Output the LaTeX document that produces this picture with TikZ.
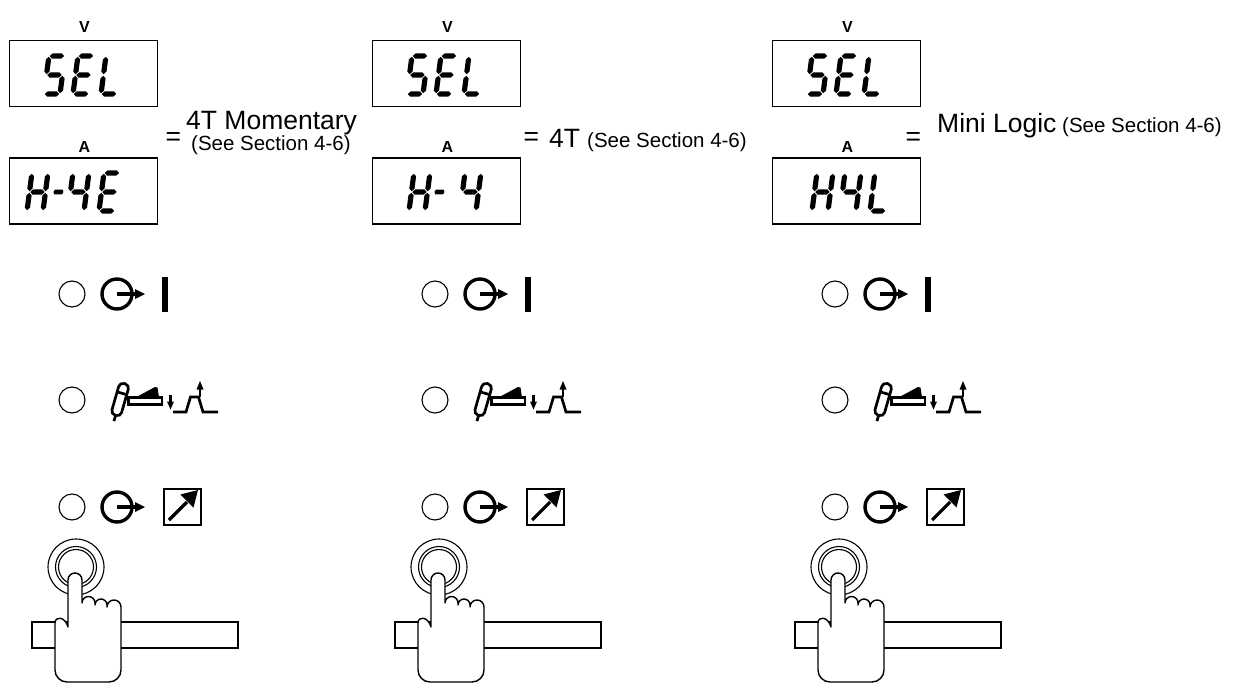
\documentclass[tikz,border=0pt]{standalone}
\usepackage{fontspec}
\setmainfont{Liberation Sans}

% --- seven-segment glyphs (local units: u to the right, v upwards) ---
\newcommand\lcdhseg[3]{\fill (#1,#3) -- (#1+2.6,#3+2.6) -- (#2-2.6,#3+2.6) -- (#2,#3) -- (#2-2.6,#3-2.6) -- (#1+2.6,#3-2.6) -- cycle;}
\newcommand\lcdvseg[3]{\fill (#1,#2) -- (#1+2.6,#2+2.6) -- (#1+2.6,#3-2.6) -- (#1,#3) -- (#1-2.6,#3-2.6) -- (#1-2.6,#2+2.6) -- cycle;}
\newcommand\lcdsega{\lcdhseg{0.8}{15.2}{38}}
\newcommand\lcdsegb{\lcdvseg{16}{19.8}{37.2}}
\newcommand\lcdsegc{\lcdvseg{16}{0.8}{18.2}}
\newcommand\lcdsegd{\lcdhseg{0.8}{15.2}{0}}
\newcommand\lcdsege{\lcdvseg{0}{0.8}{18.2}}
\newcommand\lcdsegf{\lcdvseg{0}{19.8}{37.2}}
\newcommand\lcdsegg{\lcdhseg{0.8}{15.2}{19}}
\newcommand\lcdchar[3]{\begin{scope}[shift={(#1,#2)},x={(1pt,0pt)},y={(0.13pt,1pt)}]
  \foreach \sg in {#3}{\csname lcdseg\sg\endcsname}\end{scope}}
\newcommand\lcdS[2]{\lcdchar{#1}{#2}{a,f,g,c,d}}
\newcommand\lcdE[2]{\lcdchar{#1}{#2}{a,f,g,e,d}}
\newcommand\lcdL[2]{\lcdchar{#1}{#2}{f,e,d}}
\newcommand\lcdH[2]{\lcdchar{#1}{#2}{b,c,e,f,g}}
\newcommand\lcdFour[2]{\lcdchar{#1}{#2}{f,g,b,c}}
% short minus sign between characters
\newcommand\lcdDash[2]{\begin{scope}[shift={(#1,#2)},x={(1pt,0pt)},y={(0.13pt,1pt)}]
  \fill (0,19) -- (1.2,21.4) -- (8.8,21.4) -- (10,19) -- (8.8,16.6) -- (1.2,16.6) -- cycle;\end{scope}}

\begin{document}
\begin{tikzpicture}[x=1pt,y=-1pt,
  display/.style={draw, line width=1.3pt, minimum width=148pt, minimum height=66pt, inner sep=0pt},
  meter/.style={font=\fontsize{16}{16}\selectfont\bfseries, inner sep=0pt, anchor=base},
  lamp/.style={draw, circle, line width=1.1pt, minimum size=26pt, inner sep=0pt},
  bigtext/.style={font=\fontsize{26.5}{30}\selectfont, inner sep=0pt, anchor=base west},
  smalltext/.style={font=\fontsize{20.5}{24}\selectfont, inner sep=0pt, anchor=base west},
  heavy/.style={line width=3.4pt},
  ring/.style={line width=1.1pt},
  handline/.style={line width=1.4pt, fill=white, line join=round},
  iconline/.style={line width=2.7pt}]
\useasboundingbox (0,0) rectangle (1241,698);

% ---------- parts shared by the three columns ----------
\foreach \ox/\k in {0/1,363/2,763/3}{
\begin{scope}[xshift=\ox]
  % meter displays
  \node[meter] (vlab\k) at (84.5,33) {V};
  \node[display] (vdisp\k) at (83.5,73.5) {};
  \node[meter] (alab\k) at (84.5,152) {A};
  \node[display] (adisp\k) at (83.5,191) {};
  \lcdS{44}{94}\lcdE{73}{94}\lcdL{101}{94}

  % row 1: trigger hold
  \node[lamp] (lampa\k) at (72,294) {};
  \draw[heavy] (117,294) circle (15pt);
  \draw[line width=3.2pt] (117,294) -- (136,294);
  \fill (135,289) -- (145,294) -- (135,299) -- cycle;
  \fill (161.5,277) rectangle (167.5,312);

  % row 2: torch and pulse
  \node[lamp] (lampb\k) at (72,400) {};
  \begin{scope}[shift={(120,400)},rotate=-16]
    \draw[iconline, rounded corners=4.5pt] (-5,-17) rectangle (5,16);
    \draw[iconline] (-5,-7) -- (5,-7);
    \draw[iconline] (0,16) -- (0,22);
  \end{scope}
  \draw[iconline, fill=white] (128.5,397.5) rectangle (162,404.5);
  \fill (135.5,397.5) -- (155,387) -- (157.5,387.5) -- (159,397.5) -- cycle;
  \draw[line width=2.2pt] (170.5,395) -- (170.5,403);
  \fill (167,401.5) -- (174,401.5) -- (170.5,409.5) -- cycle;
  \draw[iconline] (173,412) -- (186,412) -- (190.5,397) -- (198.5,397) -- (203,412) -- (218,412);
  \draw[line width=2.2pt] (200,397) -- (200,388);
  \fill (196.5,389.5) -- (203.5,389.5) -- (200,381) -- cycle;

  % row 3: trigger hold into remote
  \node[lamp] (lampc\k) at (72,507) {};
  \draw[heavy] (117,507) circle (15pt);
  \draw[line width=3.2pt] (117,507) -- (136,507);
  \fill (135,502) -- (145,507) -- (135,512) -- cycle;
  \draw[line width=2.8pt] (164,489) rectangle (201,525);
  \draw[line width=3.2pt] (169,520) -- (187,502);
  \fill (198,490) -- (193.5,507.5) -- (180.5,494.5) -- cycle;

  % push button, panel rail and hand
  \draw[ring] (76,567) circle (28pt);
  \draw[ring] (76,567) circle (20.5pt);
  \draw[ring] (76,567) circle (17.5pt);
  \draw[ring] (32,622) rectangle (238,648);
  \draw[handline] (68,627) -- (68,580)
    arc[start angle=180, end angle=0, radius=7pt] -- (82,603)
    arc[start angle=180, end angle=0, radius=6.5pt] -- (95,605)
    arc[start angle=180, end angle=0, radius=6pt] -- (107,607)
    arc[start angle=180, end angle=0, radius=7pt] -- (121,670)
    arc[start angle=0, end angle=-90, radius=12pt] -- (67,682)
    arc[start angle=-90, end angle=-180, radius=12pt] -- (55,623)
    .. controls (55,616) and (65,616) .. (68,627) -- cycle;
\end{scope}
}

% ---------- amperage display readings ----------
\lcdH{27}{211}\lcdDash{51}{211}\lcdFour{68}{211}\lcdE{99}{211}
\lcdH{409}{211}\lcdDash{432}{211}\lcdFour{460}{211}
\lcdH{812}{211}\lcdFour{840}{211}\lcdL{870}{211}

% ---------- mode descriptions ----------
\node[bigtext] (eqa) at (165.5,146) {=};
\node[bigtext] (modea) at (186,129) {4T Momentary};
\node[smalltext] (refa) at (191,150) {(See Section 4-6)};

\node[bigtext] (eqb) at (523.5,146) {=};
\node[bigtext] (modeb) at (549,147) {4T};
\node[smalltext] (refb) at (587,147) {(See Section 4-6)};

\node[bigtext] (eqc) at (905.5,146) {=};
\node[bigtext] (modec) at (937,132) {Mini Logic};
\node[smalltext] (refc) at (1062,132) {(See Section 4-6)};
\end{tikzpicture}
\end{document}
